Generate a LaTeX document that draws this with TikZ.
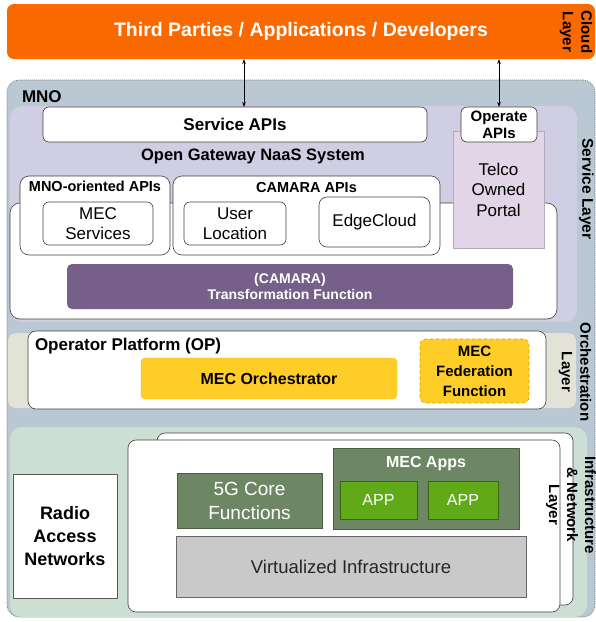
\documentclass[tikz,border=0pt]{standalone}
\usepackage{fontspec}
\setmainfont{Liberation Sans}
\usetikzlibrary{positioning,arrows.meta}
\definecolor{cloudorange}{HTML}{FA6800}
\definecolor{mnogray}{HTML}{BAC8D3}
\definecolor{svclav}{HTML}{D0CEE2}
\definecolor{portallav}{HTML}{E1D5E7}
\definecolor{tfpurple}{HTML}{76608A}
\definecolor{orchkhaki}{HTML}{E2E3D6}
\definecolor{mecyellow}{HTML}{FFCD28}
\definecolor{mecborder}{HTML}{D79B00}
\definecolor{infragreen}{HTML}{CDDFD4}
\definecolor{darkgreen}{HTML}{6D8764}
\definecolor{appgreen}{HTML}{60A917}
\tikzset{
  every node/.style={inner sep=0pt, outer sep=0pt},
  layerbox/.style={draw=none, rounded corners=12pt},
  whitebox/.style={draw=black!75, fill=white, rounded corners=6pt, line width=0.6pt},
  btext/.style={font=\fontsize{16}{19}\selectfont\bfseries, align=center},
  ntext/.style={font=\fontsize{17}{20.5}\selectfont, align=center},
  sidelabel/.style={font=\fontsize{15}{18.5}\selectfont\bfseries, align=center, rotate=-90},
  biarrow/.style={{Stealth[length=5pt,width=3.5pt]}-{Stealth[length=5pt,width=3.5pt]}, line width=0.6pt},
}
\begin{document}
\begin{tikzpicture}[x=1pt,y=1pt,yscale=-1]
\useasboundingbox (0,0) rectangle (596,622);
%MNO container
\node[fill=mnogray, draw=black!55, dash pattern=on 1pt off 1pt, line width=0.6pt, rounded corners=12pt, minimum width=588, minimum height=537] (mno) at (301,348.5) {};
\node[font=\fontsize{17}{20}\selectfont\bfseries, anchor=west] (mnolabel) at (22,97) {MNO};
%Cloud layer
\node[fill=cloudorange, rounded corners=7pt, minimum width=588, minimum height=55, font=\fontsize{19.5}{23}\selectfont\bfseries, text=white] (cloud) at (301,31.5) {Third Parties / Applications / Developers};
%Service layer
\node[layerbox, fill=svclav, minimum width=567, minimum height=216] (servicelayer) at (293.5,214) {};
\node[whitebox, rounded corners=10pt, minimum width=547, minimum height=116] (gwbase) at (283.5,261) {};
\node[fill=portallav, draw=portallav!80!black, line width=0.4pt, minimum width=91, minimum height=117, ntext] (portal) at (498.5,189.5) {Telco\\Owned\\Portal};
\node[whitebox, minimum width=384, minimum height=35, btext, font=\fontsize{17}{20}\selectfont\bfseries] (serviceapis) at (235,124.5) {Service APIs};
\node[whitebox, minimum width=76, minimum height=35, btext, font=\fontsize{15}{17}\selectfont\bfseries] (operateapis) at (499,124.5) {Operate\\APIs};
\node[btext, font=\fontsize{16.5}{19}\selectfont\bfseries] (ogsystem) at (253,156) {Open Gateway NaaS System};
%API groups
\node[whitebox, rounded corners=9pt, minimum width=150, minimum height=79] (mnoapis) at (95,215.5) {};
\node[btext, font=\fontsize{14.5}{17}\selectfont\bfseries, below=5pt of mnoapis.north] (mnoapislabel) {MNO-oriented APIs};
\node[whitebox, minimum width=110, minimum height=43, ntext] (mecservices) at (98,223.5) {MEC\\Services};
\node[whitebox, rounded corners=9pt, minimum width=267, minimum height=79] (camaraapis) at (306.5,215.5) {};
\node[btext, font=\fontsize{14.5}{17}\selectfont\bfseries, below=6pt of camaraapis.north] (camaralabel) {CAMARA APIs};
\node[whitebox, minimum width=102, minimum height=43, ntext] (userloc) at (235,223.5) {User\\Location};
\node[whitebox, rounded corners=8pt, minimum width=111, minimum height=50, ntext] (edgecloud) at (374.5,222) {EdgeCloud};
\node[fill=tfpurple, rounded corners=5pt, minimum width=446, minimum height=45, text=white, font=\fontsize{14}{16}\selectfont\bfseries, align=center] (transform) at (290,286.5) {(CAMARA)\\Transformation Function};
%Orchestration layer
\node[layerbox, rounded corners=8pt, fill=orchkhaki, minimum width=568, minimum height=75] (orchband) at (292,370.5) {};
\node[whitebox, rounded corners=8pt, minimum width=518, minimum height=78] (opplatform) at (287,370) {};
\node[btext, font=\fontsize{17}{20}\selectfont\bfseries, anchor=west] (oplabel) at (35,346) {Operator Platform (OP)};
\node[fill=mecyellow, draw=mecyellow!80!mecborder, line width=0.4pt, rounded corners=4pt, minimum width=256, minimum height=41, btext] (mecorch) at (269,378.5) {MEC Orchestrator};
\node[fill=mecyellow, draw=mecborder, dashed, line width=0.6pt, rounded corners=6pt, minimum width=109, minimum height=64, btext, font=\fontsize{15}{20}\selectfont\bfseries] (mecfed) at (474.5,371) {MEC\\Federation\\Function};
%Infrastructure layer
\node[layerbox, fill=infragreen, minimum width=577, minimum height=190] (infraband) at (298.5,522) {};
\node[fill=white, draw=black!65, line width=0.6pt, minimum width=104, minimum height=124, font=\fontsize{18}{23}\selectfont\bfseries, align=center] (ran) at (65,536) {Radio\\Access\\Networks};
\node[whitebox, rounded corners=8pt, minimum width=416, minimum height=172] (edgeback) at (365,519) {};
\node[whitebox, rounded corners=8pt, minimum width=432, minimum height=172] (edgefront) at (344,526) {};
\node[fill=darkgreen, draw=darkgreen!70!black, line width=0.4pt, minimum width=145, minimum height=55, text=white, font=\fontsize{19}{24}\selectfont, align=center] (core5g) at (249.5,500.5) {5G Core\\Functions};
\node[fill=darkgreen, draw=darkgreen!70!black, line width=0.4pt, minimum width=186, minimum height=81] (mecapps) at (426,488.5) {};
\node[text=white, font=\fontsize{16}{19}\selectfont\bfseries, below=8pt of mecapps.north] (mecappslabel) {MEC Apps};
\node[fill=appgreen, draw=appgreen!60!black, line width=0.4pt, minimum width=77, minimum height=38, text=white, font=\fontsize{16}{19}\selectfont] (appone) at (378.5,500) {APP};
\node[fill=appgreen, draw=appgreen!60!black, line width=0.4pt, minimum width=70, minimum height=38, text=white, font=\fontsize{16}{19}\selectfont] (apptwo) at (463,500) {APP};
\node[fill=black!21, draw=black!60, line width=0.5pt, minimum width=350, minimum height=61, font=\fontsize{18.5}{22}\selectfont, text=black!85] (virtinfra) at (351,566.5) {Virtualized Infrastructure};
%Layer labels
\node[sidelabel] (cloudlayer) at (576,32) {Cloud\\Layer};
\node[sidelabel, font=\fontsize{15.5}{19}\selectfont\bfseries] (servicelabel) at (586.5,189) {Service Layer};
\node[sidelabel] (orchlayer) at (575,372) {Orchestration\\Layer};
\node[sidelabel, font=\fontsize{15}{18}\selectfont\bfseries] (infralayer) at (571,505) {Infrastructure\\\& Network\\Layer};
%Arrows
\coordinate (apix) at (244,0);
\draw[biarrow] (cloud.south -| apix) -- (serviceapis.north -| apix);
\draw[biarrow] (cloud.south -| operateapis.north) -- (operateapis.north);
\end{tikzpicture}
\end{document}
